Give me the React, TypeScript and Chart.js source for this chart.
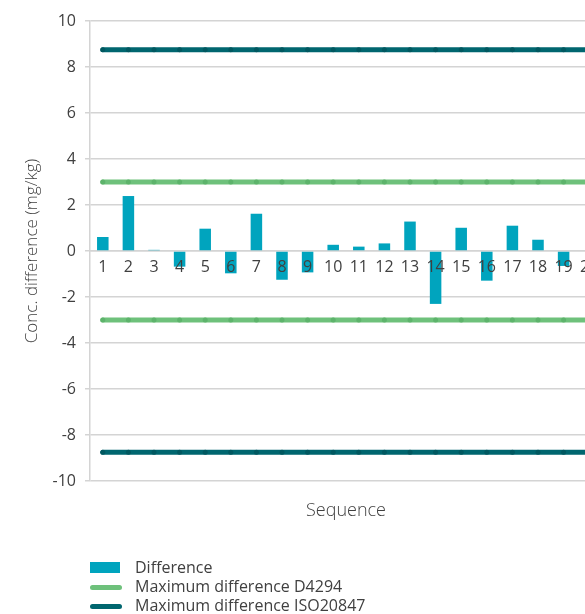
import React, { useEffect, useRef } from "react";
import { Chart, registerables } from "chart.js";

Chart.register(...registerables);

const categories = ["1", "2", "3", "4", "5", "6", "7", "8", "9", "10", "11", "12", "13", "14", "15", "16", "17", "18", "19", "20"];
const differenceValues = [0.61, 2.39, 0.05, -0.68, 0.97, -0.97, 1.62, -1.25, -0.93, 0.27, 0.19, 0.33, 1.28, -2.3, 1.01, -1.29, 1.1, 0.49, -0.65, null];
const d4294Upper = [3, 3, 3, 3, 3, 3, 3, 3, 3, 3, 3, 3, 3, 3, 3, 3, 3, 3, 3, 3];
const d4294Lower = [-3, -3, -3, -3, -3, -3, -3, -3, -3, -3, -3, -3, -3, -3, -3, -3, -3, -3, -3, -3];
const isoUpper = [8.75, 8.75, 8.75, 8.75, 8.75, 8.75, 8.75, 8.75, 8.75, 8.75, 8.75, 8.75, 8.75, 8.75, 8.75, 8.75, 8.75, 8.75, 8.75, 8.75];
const isoLower = [-8.75, -8.75, -8.75, -8.75, -8.75, -8.75, -8.75, -8.75, -8.75, -8.75, -8.75, -8.75, -8.75, -8.75, -8.75, -8.75, -8.75, -8.75, -8.75, -8.75];
const legendLabels = ["Difference", "Maximum difference D4294", "Maximum difference ISO20847"];

const BAR_COLOR = "#00A4BE";
const GREEN = "#6EC17B";
const GREEN_DOT = "#5DB36B";
const TEAL = "#00666F";
const TEAL_DOT = "#005860";
const TEXT = "#404040";
const GRID = "#d4d4d4";
const FONT = "'Open Sans', sans-serif";

export default function App() {
  const ref = useRef<HTMLCanvasElement | null>(null);

  useEffect(() => {
    if (!ref.current) return;
    const lineDs = (label: string, data: number[], color: string, dot: string) => ({
      type: "line" as const,
      label,
      data,
      borderColor: color,
      backgroundColor: color,
      borderWidth: 5,
      borderCapStyle: "round" as const,
      pointRadius: 2.5,
      pointBorderWidth: 0,
      pointBackgroundColor: dot,
      fill: false,
      tension: 0,
      xAxisID: "x",
      yAxisID: "y",
    });
    const chart = new Chart(ref.current, {
      type: "bar",
      data: {
        labels: categories,
        datasets: [
          lineDs(legendLabels[2], isoUpper, TEAL, TEAL_DOT),
          lineDs(legendLabels[2], isoLower, TEAL, TEAL_DOT),
          lineDs(legendLabels[1], d4294Upper, GREEN, GREEN_DOT),
          lineDs(legendLabels[1], d4294Lower, GREEN, GREEN_DOT),
          {
            type: "bar" as const,
            label: legendLabels[0],
            data: differenceValues,
            backgroundColor: BAR_COLOR,
            borderWidth: 0,
            barPercentage: 0.45,
            categoryPercentage: 1,
            xAxisID: "x",
            yAxisID: "y",
          },
        ] as any,
      },
      options: {
        animation: false,
        responsive: false,
        maintainAspectRatio: false,
        layout: { padding: { top: 21, bottom: 83, left: 0, right: 38 } },
        plugins: { legend: { display: false }, tooltip: { enabled: false } },
        scales: {
          x: {
            type: "category",
            position: { y: 0 } as any,
            offset: true,
            grid: { display: false, drawTicks: false },
            border: { display: true, color: GRID, width: 1.5, z: -1 },
            ticks: { z: 1, color: TEXT, font: { family: FONT, size: 16 }, padding: 7, maxRotation: 0, autoSkip: false },
          },
          x2: {
            type: "category",
            position: "bottom",
            offset: true,
            grid: { display: false, drawTicks: false },
            border: { display: false },
            ticks: { display: false },
            title: { display: true, text: "Sequence", color: TEXT, font: { family: FONT, size: 18, weight: "300" }, padding: { top: 0, bottom: 9 } },
            afterFit: (s: any) => { s.height = 50; },
          },
          y: {
            min: -10,
            max: 10,
            ticks: { stepSize: 2, color: TEXT, font: { family: FONT, size: 16 }, padding: 9 },
            grid: { color: GRID, lineWidth: 1.5, tickLength: 5 },
            border: { display: true, color: GRID, width: 1.5 },
            title: { display: true, text: "Conc. difference (mg/kg)", color: TEXT, font: { family: FONT, size: 17, weight: "300" }, padding: { top: 22, bottom: 0 } },
            afterFit: (s: any) => { s.width = 90; },
          },
        },
      } as any,
    });
    return () => chart.destroy();
  }, []);

  const legendText: React.CSSProperties = {
    position: "absolute",
    left: 135,
    fontFamily: FONT,
    fontSize: 16,
    color: TEXT,
    lineHeight: "20px",
    whiteSpace: "nowrap",
  };

  return (
    <div style={{ position: "fixed", left: 0, top: 0, width: 585, height: 614, overflow: "hidden", background: "#fff" }}>
      <canvas ref={ref} width={640} height={614} style={{ position: "absolute", left: 0, top: 0, width: 640, height: 614 }} />
      <div style={{ position: "absolute", left: 90, top: 562, width: 30, height: 11, background: BAR_COLOR }} />
      <div style={{ ...legendText, top: 557 }}>{legendLabels[0]}</div>
      <div style={{ position: "absolute", left: 90, top: 585, width: 32, height: 5, borderRadius: 3, background: GREEN }} />
      <div style={{ ...legendText, top: 576 }}>{legendLabels[1]}</div>
      <div style={{ position: "absolute", left: 90, top: 604, width: 32, height: 5, borderRadius: 3, background: TEAL }} />
      <div style={{ ...legendText, top: 595 }}>{legendLabels[2]}</div>
    </div>
  );
}
